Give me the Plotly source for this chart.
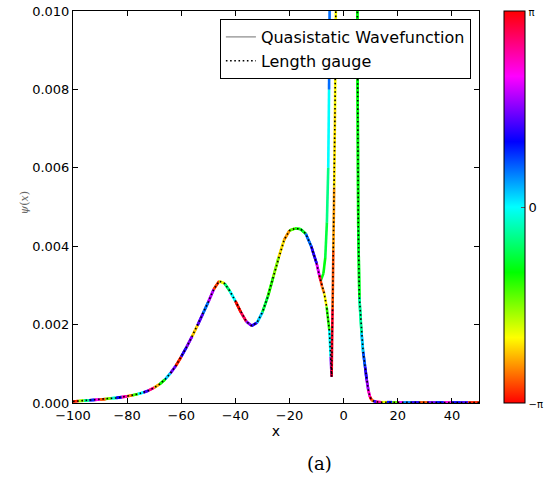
import math
import colorsys
import plotly.graph_objects as go

# ---------------- data ----------------
# common part of both curves (x < -9)
x_left = [-100, -98, -96, -94, -92, -90, -88, -86, -84, -82, -80, -78, -76, -74,
          -72, -70, -68, -66, -64, -62, -60, -58, -56, -54, -52, -50, -48, -46,
          -44, -42, -40, -38, -36, -34, -32, -30, -28, -26, -24, -22, -20, -18,
          -16, -14, -12, -10, -9]
y_left = [0.00004, 0.00005, 0.00006, 0.00007, 0.00008, 0.00009, 0.00010, 0.00012,
          0.00013, 0.00015, 0.00017, 0.00020, 0.00023, 0.00027, 0.00032, 0.00039,
          0.00048, 0.00060, 0.00076, 0.00095, 0.00118, 0.00143, 0.00170, 0.00198,
          0.00228, 0.00258, 0.00290, 0.00311, 0.00305, 0.00285, 0.00260, 0.00232,
          0.00208, 0.00197, 0.00205, 0.00232, 0.00272, 0.00322, 0.00372, 0.00416,
          0.00440, 0.00445, 0.00444, 0.00432, 0.00400, 0.00356, 0.00326]
ph_left = [-3.0, -1.7, -0.4, 0.9, 2.2, -2.8, -1.5, -0.2, 1.1, 2.4, -2.6, -1.3, 0.0,
           1.3, 2.6, -2.4, -1.1, 0.2, 1.5, -3.0, 1.2, 1.6, -2.3, 1.4, 0.6, 1.8,
           -2.9, -2.0, -0.6, 0.0, -3.1, 2.8, 1.6, 1.2, 0.2, -0.8, -1.2, -1.6, -2.2,
           -2.5, -1.4, -1.1, -0.9, 0.6, 1.2, 2.0, 2.8]

# quasistatic wavefunction branch near the core
x_qs_mid = [-8.5, -7.5, -6.8, -6.2, -5.7, -5.4, -5.2, -4.8, 0.0]
y_qs_mid = [0.00312, 0.0033, 0.0037, 0.0046, 0.0060, 0.0080, 0.0100, 0.0200, 0.0600]
ph_qs_mid = [-1.0, -1.0, -0.8, -0.5, 0.0, 0.6, 1.1, 1.2, 1.5]

# length gauge branch near the core
x_lg_mid = [-8.5, -8.0, -7.2, -6.3, -5.3, -4.8, -4.45, -4.1, -3.8, -3.5, -3.2,
            -2.9, -2.5, 0.0]
y_lg_mid = [0.00312, 0.00297, 0.0028, 0.00246, 0.00186, 0.00118, 0.00067, 0.0024,
            0.0039, 0.0055, 0.0075, 0.0100, 0.0200, 0.0600]
ph_lg_mid = [-2.9, -2.6, -2.1, -1.2, 0.0, 1.5, 3.0, -2.8, -2.5, -2.2, -2.1, -2.0,
             -2.0, -2.0]

# common right part
x_right = [5.0, 5.2, 5.4, 5.8, 6.6, 7.2, 7.9, 8.5, 9.1, 9.7, 10.3, 11, 12, 14, 16,
           18, 20, 22, 25, 28, 31, 34, 37, 40, 43, 46, 50]
y_right = [0.0110, 0.0075, 0.0045, 0.0027, 0.00178, 0.0013, 0.00093, 0.0006,
           0.00033, 0.00016, 0.00008, 0.00005, 0.00003, 0.00002, 0.00002, 0.00002,
           0.00001, 0.00001, 0.00001, 0.00001, 0.00001, 0.00001, 0.00001, 0.00001,
           0.00001, 0.00001, 0.00001]
ph_right = [-1.0, -1.0, -0.9, -0.4, 0.2, 0.7, 1.2, 1.7, 2.3, 3.0, -2.6, 1.3, 2.5,
            -2.0, 1.0, -1.5, 2.0, 0.5, 1.2, -2.8, 1.5, 1.0, 2.2, 1.1, 1.3, -3.0, 1.2]

x_ticks = [-100, -80, -60, -40, -20, 0, 20, 40]
y_ticks = [0.000, 0.002, 0.004, 0.006, 0.008, 0.010]
cb_tickvals = [-math.pi, 0, math.pi]
cb_ticktext = ['<span style="font-size:10px">−π</span>', '0',
               '<span style="font-size:10px">π</span>']

# ---------------- build curves ----------------
x_qs = x_left + x_qs_mid + x_right
y_qs = y_left + y_qs_mid + y_right
ph_qs = ph_left + ph_qs_mid + ph_right

x_lg = x_left + x_lg_mid + x_right
y_lg = y_left + y_lg_mid + y_right
ph_lg = ph_left + ph_lg_mid + ph_right


def phase_color(p):
    f = (p + math.pi) / (2 * math.pi)
    f = min(max(f, 0.0), 1.0)
    r, g, b = colorsys.hsv_to_rgb(f % 1.0, 1.0, 1.0)
    return "rgb(%d,%d,%d)" % (round(r * 255), round(g * 255), round(b * 255))


hsv_scale = []
for i in range(13):
    f = i / 12
    r, g, b = colorsys.hsv_to_rgb(f % 1.0, 1.0, 1.0)
    hsv_scale.append([f, "rgb(%d,%d,%d)" % (round(r * 255), round(g * 255), round(b * 255))])

fig = go.Figure()

# legend / base line for the quasistatic wavefunction
fig.add_trace(go.Scatter(x=x_qs, y=y_qs, mode="lines",
                         line=dict(color="#888888", width=1.2),
                         name="Quasistatic Wavefunction", hoverinfo="skip"))


def add_colored(xs, ys, ps, width):
    for i in range(len(xs) - 1):
        fig.add_trace(go.Scatter(x=xs[i:i + 2], y=ys[i:i + 2], mode="lines",
                                 line=dict(color=phase_color(ps[i]), width=width),
                                 showlegend=False, hoverinfo="skip"))


add_colored(x_qs, y_qs, ph_qs, 2.6)
add_colored(x_lg, y_lg, ph_lg, 2.6)

# black dotted length gauge line
fig.add_trace(go.Scatter(x=x_lg, y=y_lg, mode="lines",
                         line=dict(color="black", width=1.6, dash="1.6px,2.6px"),
                         name="Length gauge", hoverinfo="skip"))

# invisible trace carrying the phase colorbar
fig.add_trace(go.Scatter(
    x=x_qs, y=y_qs, mode="markers", showlegend=False, hoverinfo="skip",
    marker=dict(size=0.1, opacity=0, color=ph_qs, colorscale=hsv_scale,
                cmin=-math.pi, cmax=math.pi, showscale=True,
                colorbar=dict(x=(504 - 73) / 406, xanchor="left", xpad=0,
                              y=0.5, yanchor="middle", ypad=0, len=1,
                              lenmode="fraction", thickness=21,
                              outlinewidth=1, outlinecolor="black",
                              tickvals=cb_tickvals, ticktext=cb_ticktext,
                              ticks="inside", ticklen=4, tickcolor="#555",
                              tickfont=dict(family="DejaVu Sans", size=13, color="black")))))

font_family = "DejaVu Sans"
axis_common = dict(showgrid=False, zeroline=False, showline=True, linecolor="black",
                   linewidth=1, mirror="ticks", ticks="inside", ticklen=5,
                   tickcolor="black",
                   tickfont=dict(family=font_family, size=13, color="black"))

fig.update_layout(
    width=546, height=490,
    margin=dict(l=73, r=67, t=11, b=87, autoexpand=False),
    paper_bgcolor="white", plot_bgcolor="white",
    font=dict(family=font_family, color="black"),
    xaxis=dict(range=[-100, 50], tickvals=x_ticks,
               title=dict(text="x", font=dict(size=14), standoff=2),
               **axis_common),
    yaxis=dict(range=[0, 0.010], tickvals=y_ticks, tickformat=".3f",
               **axis_common),
    legend=dict(x=0.98, y=0.9796, xanchor="right", yanchor="top",
                bordercolor="black", borderwidth=1, bgcolor="white",
                font=dict(family=font_family, size=16, color="black")),
    annotations=[
        dict(text="<i>ψ</i>(<i>x</i>)", xref="paper", yref="paper",
             x=(15 - 73) / 406, y=(403 - 203) / 392, textangle=-90,
             showarrow=False, font=dict(family="DejaVu Serif", size=11, color="#666")),
        dict(text="(a)", xref="paper", yref="paper",
             x=(319 - 73) / 406, y=(403 - 476) / 392, showarrow=False,
             font=dict(family="DejaVu Serif", size=18, color="black")),
    ],
)

fig.write_html("out.html",
               config={"displayModeBar": False},
               post_script="document.body.style.margin='0px';"
                           "document.body.style.overflow='hidden';")
